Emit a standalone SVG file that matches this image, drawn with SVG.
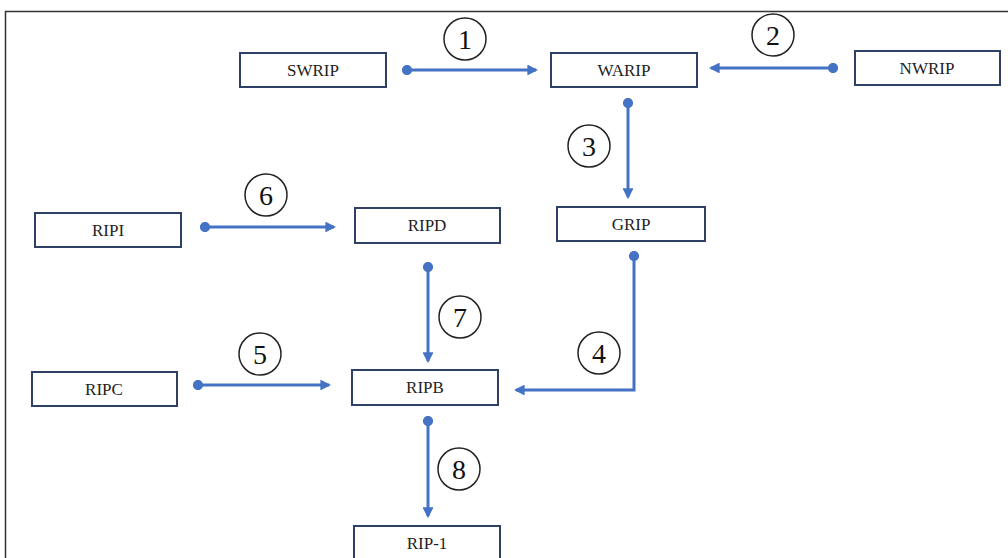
<svg xmlns="http://www.w3.org/2000/svg" width="1008" height="558" viewBox="0 0 1008 558">
  <defs>
    <style>
      .box { fill: #ffffff; stroke: #2f4066; stroke-width: 2; }
      .lbl { font-family: 'Liberation Serif', 'DejaVu Serif', 'Times New Roman', serif; font-size: 17px; fill: #222; text-anchor: middle; }
      .wire { fill: none; stroke: #4472c4; stroke-width: 3; marker-start: url(#dot); marker-end: url(#arrow); }
      .num circle { fill: #ffffff; stroke: #222; stroke-width: 1.5; }
      .num text { font-family: 'Liberation Serif', 'DejaVu Serif', 'Times New Roman', serif; font-size: 28px; fill: #111; text-anchor: middle; }
    </style>
    <marker id="dot" viewBox="0 0 10 10" refX="5" refY="5" markerWidth="3.4" markerHeight="3.4" markerUnits="strokeWidth">
      <circle cx="5" cy="5" r="5" fill="#4472c4"/>
    </marker>
    <marker id="arrow" viewBox="0 0 10 10" refX="8" refY="5" markerWidth="3.6" markerHeight="3.6" markerUnits="strokeWidth" orient="auto">
      <path d="M0,0 L10,5 L0,10 z" fill="#4472c4"/>
    </marker>
  </defs>

  <rect width="1008" height="558" fill="#ffffff"/>
  <!-- outer frame -->
  <path d="M5.5,558 L5.5,11.5 L1008,11.5" fill="none" stroke="#333" stroke-width="1.5"/>

  <!-- connectors -->
  <g id="connectors">
    <path class="wire" d="M407,70 L536,70"/>
    <path class="wire" d="M833,68 L711,68"/>
    <path class="wire" d="M628,103 L628,197"/>
    <path class="wire" d="M205,227 L334,227"/>
    <path class="wire" d="M428,267 L428,361"/>
    <path class="wire" d="M634,256 L634,390 L516,390"/>
    <path class="wire" d="M198,385 L329,385"/>
    <path class="wire" d="M428,421 L428,516"/>

    <g class="num"><circle cx="465" cy="39" r="21"/><text x="465" y="49" font-family="Liberation Serif, serif">1</text></g>
    <g class="num"><circle cx="773" cy="35" r="21"/><text x="773" y="45" font-family="Liberation Serif, serif">2</text></g>
    <g class="num"><circle cx="589" cy="146" r="21"/><text x="589" y="156" font-family="Liberation Serif, serif">3</text></g>
    <g class="num"><circle cx="599" cy="353" r="21"/><text x="599" y="363" font-family="Liberation Serif, serif">4</text></g>
    <g class="num"><circle cx="260" cy="354" r="21"/><text x="260" y="364" font-family="Liberation Serif, serif">5</text></g>
    <g class="num"><circle cx="266" cy="195" r="21"/><text x="266" y="205" font-family="Liberation Serif, serif">6</text></g>
    <g class="num"><circle cx="460" cy="317" r="21"/><text x="460" y="327" font-family="Liberation Serif, serif">7</text></g>
    <g class="num"><circle cx="459" cy="469" r="21"/><text x="459" y="479" font-family="Liberation Serif, serif">8</text></g>
  </g>

  <!-- nodes -->
  <g id="SWRIP"><rect class="box" x="240" y="53" width="146" height="34"/><text class="lbl" x="313" y="76" font-family="Liberation Serif, serif">SWRIP</text></g>
  <g id="WARIP"><rect class="box" x="551" y="53" width="146" height="34"/><text class="lbl" x="624" y="76" font-family="Liberation Serif, serif">WARIP</text></g>
  <g id="NWRIP"><rect class="box" x="855" y="51" width="145" height="34"/><text class="lbl" x="927" y="74" font-family="Liberation Serif, serif">NWRIP</text></g>
  <g id="GRIP"><rect class="box" x="557" y="207" width="148" height="34"/><text class="lbl" x="631" y="230" font-family="Liberation Serif, serif">GRIP</text></g>
  <g id="RIPI"><rect class="box" x="35" y="213" width="146" height="34"/><text class="lbl" x="108" y="236" font-family="Liberation Serif, serif">RIPI</text></g>
  <g id="RIPD"><rect class="box" x="355" y="208" width="145" height="35"/><text class="lbl" x="427" y="231" font-family="Liberation Serif, serif">RIPD</text></g>
  <g id="RIPC"><rect class="box" x="32" y="372" width="145" height="34"/><text class="lbl" x="104" y="395" font-family="Liberation Serif, serif">RIPC</text></g>
  <g id="RIPB"><rect class="box" x="352" y="370" width="146" height="35"/><text class="lbl" x="425" y="393" font-family="Liberation Serif, serif">RIPB</text></g>
  <g id="RIP-1"><rect class="box" x="354" y="526" width="146" height="40"/><text class="lbl" x="427" y="549" font-family="Liberation Serif, serif">RIP-1</text></g>
</svg>
